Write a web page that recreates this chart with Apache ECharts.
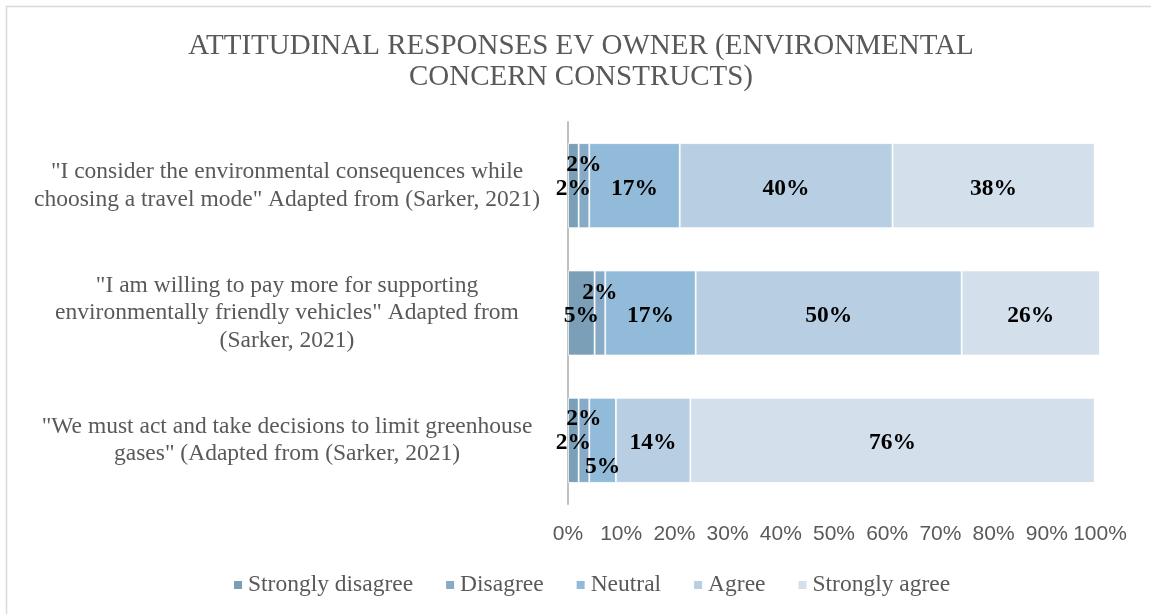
<!DOCTYPE html>
<html>
<head>
<meta charset="utf-8">
<title>Attitudinal responses EV owner</title>
<script src="https://cdn.jsdelivr.net/npm/echarts@6/dist/echarts.min.js"></script>
<style>
  html, body { margin: 0; padding: 0; background: #fff; }
  #chart { width: 1151px; height: 614px; }
</style>
</head>
<body>
<div id="chart"></div>
<script>
// Survey statements (top to bottom)
const categories = [
  '"I consider the environmental consequences while\nchoosing a travel mode" Adapted from (Sarker, 2021)',
  '"I am willing to pay more for supporting\nenvironmentally friendly vehicles" Adapted from\n(Sarker, 2021)',
  '"We must act and take decisions to limit greenhouse\ngases" (Adapted from (Sarker, 2021)'
];

// Share of respondents (%) per answer, one value per statement
const stronglyDisagree = [2, 5, 2];
const disagree = [2, 2, 2];
const neutral = [17, 17, 5];
const agree = [40, 50, 14];
const stronglyAgree = [38, 26, 76];

const seriesNames = ['Strongly disagree', 'Disagree', 'Neutral', 'Agree', 'Strongly agree'];
const seriesValues = [stronglyDisagree, disagree, neutral, agree, stronglyAgree];
const seriesColors = ['#7b9fb7', '#87abc7', '#92bbd9', '#b8cfe3', '#d3dfea'];

// Percentage axis ticks
const xMin = 0;
const xMax = 100;
const xStep = 10;

const SERIF = '"Liberation Serif", "Times New Roman", serif';
const SANS = '"Liberation Sans", Arial, sans-serif';
const GREY = '#595959';

// Small segments get their labels nudged off the bar centre so they stay readable
const baseShift = [0, 3];
const labelShift = {
  'Disagree': [[0, -21], [0, -20], [0, -21]],
  'Neutral': [null, null, [0, 27]]
};

const series = seriesNames.map((name, i) => ({
  name: name,
  type: 'bar',
  stack: 'total',
  barWidth: 85,
  itemStyle: { color: seriesColors[i], borderColor: '#ffffff', borderWidth: 0.8 },
  label: {
    show: true,
    position: 'inside',
    offset: baseShift,
    formatter: p => p.value + '%',
    fontFamily: SERIF,
    fontWeight: 'bold',
    fontSize: 23.5,
    color: '#000'
  },
  data: seriesValues[i].map((v, j) => {
    const shift = labelShift[name] && labelShift[name][j];
    return shift ? { value: v, label: { offset: shift } } : { value: v };
  })
}));

const chart = echarts.init(document.getElementById('chart'), null, { renderer: 'canvas' });

chart.setOption({
  backgroundColor: '#ffffff',
  animation: false,
  title: {
    text: 'ATTITUDINAL RESPONSES EV OWNER (ENVIRONMENTAL\nCONCERN CONSTRUCTS)',
    left: 581,
    textAlign: 'center',
    top: 31,
    padding: 0,
    textStyle: {
      fontFamily: SERIF,
      fontWeight: 'normal',
      fontSize: 29,
      lineHeight: 31,
      color: GREY
    }
  },
  legend: {
    data: seriesNames,
    left: 227,
    top: 568,
    itemWidth: 10,
    itemHeight: 10,
    itemGap: 31,
    icon: 'rect',
    textStyle: { fontFamily: SERIF, fontSize: 23.5, color: GREY }
  },
  grid: {
    left: 568,
    right: 51,
    top: 122,
    height: 382,
    containLabel: false
  },
  xAxis: {
    type: 'value',
    min: xMin,
    max: xMax,
    interval: xStep,
    axisLine: { show: false },
    axisTick: { show: false },
    splitLine: { show: false },
    axisLabel: {
      formatter: '{value}%',
      fontFamily: SANS,
      fontSize: 21,
      color: GREY,
      margin: 20
    }
  },
  yAxis: {
    type: 'category',
    inverse: true,
    data: categories,
    axisLine: { show: true, lineStyle: { color: '#bfbfbf', width: 2 } },
    axisTick: { show: false },
    axisLabel: {
      align: 'center',
      margin: 281,
      fontFamily: SERIF,
      fontSize: 23.5,
      lineHeight: 27.5,
      color: GREY,
      padding: [3, 0, 0, 0]
    }
  },
  graphic: [{
    type: 'rect',
    shape: { x: 6.5, y: 6.5, width: 1160, height: 620 },
    style: { fill: 'none', stroke: '#d9d9d9', lineWidth: 1.5 },
    silent: true,
    z: 100
  }],
  series: series
});
</script>
</body>
</html>
